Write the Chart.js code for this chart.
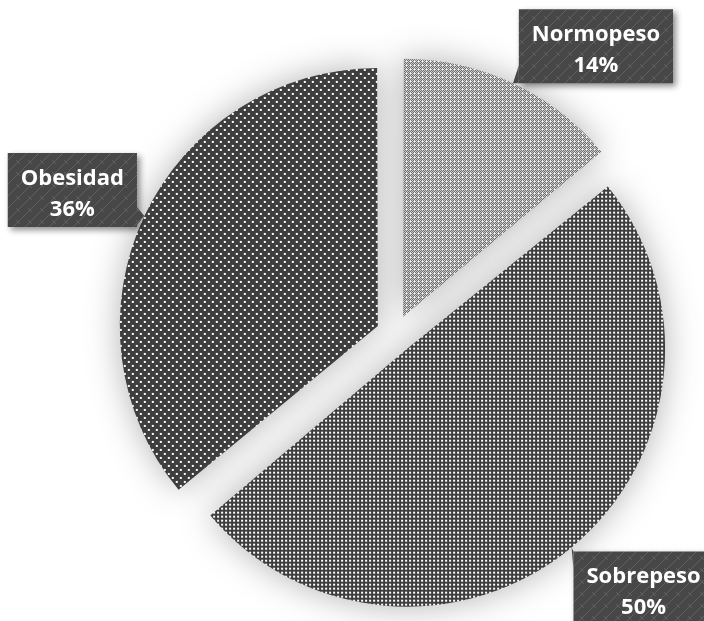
<!DOCTYPE html>
<html>
<head>
<meta charset="utf-8">
<script src="https://cdn.jsdelivr.net/npm/chart.js@4.4.1/dist/chart.umd.min.js"></script>
<style>
  html, body { margin: 0; padding: 0; background: #fff; }
  #pieChart { display: block; }
</style>
</head>
<body>
<canvas id="pieChart" width="704" height="621"></canvas>
<script>
const categories = ["Normopeso", "Sobrepeso", "Obesidad"];
const percentages = [14, 50, 36];

const pieChart = document.getElementById("pieChart");
const ctx0 = pieChart.getContext("2d");

// small repeating tiles used as slice fills
function makePattern(size, paint) {
  const c = document.createElement("canvas");
  c.width = size;
  c.height = size;
  const g = c.getContext("2d");
  paint(g, size);
  return ctx0.createPattern(c, "repeat");
}

const normoFill = makePattern(8, (g, s) => {
  g.fillStyle = "#fff";
  g.fillRect(0, 0, s, s);
  g.fillStyle = "#3c3c3c";
  const holes = ["2,2", "6,6", "2,6", "6,2"];
  for (let y = 0; y < s; y++) {
    for (let x = 0; x < s; x++) {
      if ((x + y) % 2 === 0 && !holes.includes(x + "," + y)) g.fillRect(x, y, 1, 1);
    }
  }
});

const sobreFill = makePattern(4, (g, s) => {
  g.fillStyle = "#3e3e3e";
  g.fillRect(0, 0, s, s);
  g.fillStyle = "#fff";
  g.fillRect(1, 1, 2, 2);
});

const obesFill = makePattern(8, (g, s) => {
  g.fillStyle = "#3e3e3e";
  g.fillRect(0, 0, s, s);
  g.fillStyle = "#fff";
  g.fillRect(1, 1, 2, 2);
  g.fillRect(5, 5, 2, 2);
});

const boxFill = makePattern(12, (g, s) => {
  g.fillStyle = "#474747";
  g.fillRect(0, 0, s, s);
  g.strokeStyle = "#5f5f5f";
  g.lineWidth = 1;
  g.beginPath();
  g.moveTo(-1, s + 1);
  g.lineTo(s + 1, -1);
  g.moveTo(4, 4);
  g.lineTo(8, 8);
  g.stroke();
});

// Chart.js grows a half-circle slice when it is offset; undo that and add the soft shadow
const explodeFix = {
  id: "explodeFix",
  beforeDatasetsDraw(chart) {
    const meta = chart.getDatasetMeta(0);
    const base = meta.controller.outerRadius;
    meta.data.forEach((arc) => {
      const off = (arc.options.offset || 0) / 4;
      const fix = 1 - Math.sin(Math.min(Math.PI, arc.circumference));
      arc.outerRadius = base - off * fix;
    });
    const ctx = chart.ctx;
    ctx.save();
    ctx.shadowColor = "rgba(0, 0, 0, 0.3)";
    ctx.shadowBlur = 34;
  },
  afterDatasetsDraw(chart) {
    chart.ctx.restore();
  },
};

const calloutLabels = {
  id: "calloutLabels",
  afterDatasetsDraw(chart, args, opts) {
    const ctx = chart.ctx;
    const meta = chart.getDatasetMeta(0);
    const R = meta.controller.outerRadius;
    ctx.save();
    ctx.font = "bold 22px 'Open Sans'";
    meta.data.forEach((arc, i) => {
      const mid = (arc.startAngle + arc.endAngle) / 2;
      const shift = (arc.options.offset || 0) / 4;
      const ax = arc.x + Math.cos(mid) * (shift + R);
      const ay = arc.y + Math.sin(mid) * (shift + R);
      const line1 = categories[i];
      const line2 = percentages[i] + "%";
      const w = Math.max(ctx.measureText(line1).width, ctx.measureText(line2).width) + 26;
      const h = 74;
      const cx = ax + opts.shift[i][0];
      const cy = ay + opts.shift[i][1];
      const left = cx - w / 2, right = cx + w / 2, top = cy - h / 2, bottom = cy + h / 2;

      // wedge from the nearest box edge to the slice
      let b1, b2;
      if (ax < left || ax > right) {
        const ex = ax < left ? left : right;
        const y1 = Math.min(Math.max(ay - 9, top), bottom - 18);
        b1 = [ex, y1];
        b2 = [ex, y1 + 18];
      } else {
        const ey = ay < top ? top : bottom;
        const x1 = Math.min(Math.max(ax - 9, left), right - 18);
        b1 = [x1, ey];
        b2 = [x1 + 18, ey];
      }

      ctx.save();
      ctx.shadowColor = "rgba(0, 0, 0, 0.45)";
      ctx.shadowBlur = 6;
      ctx.shadowOffsetX = 3;
      ctx.shadowOffsetY = 3;
      ctx.fillStyle = boxFill;
      ctx.beginPath();
      ctx.rect(left, top, w, h);
      ctx.fill();
      ctx.shadowColor = "rgba(0, 0, 0, 0)";
      ctx.beginPath();
      ctx.moveTo(b1[0], b1[1]);
      ctx.lineTo(ax, ay);
      ctx.lineTo(b2[0], b2[1]);
      ctx.closePath();
      ctx.fill();
      ctx.restore();

      ctx.fillStyle = "#fff";
      ctx.textAlign = "center";
      ctx.textBaseline = "alphabetic";
      ctx.fillText(line1, cx, cy - 5);
      ctx.fillText(line2, cx, cy + 26);
    });
    ctx.restore();
  },
};

new Chart(pieChart, {
  type: "pie",
  data: {
    labels: categories,
    datasets: [
      {
        data: percentages,
        backgroundColor: [normoFill, sobreFill, obesFill],
        borderWidth: 0,
        offset: 76,
      },
    ],
  },
  options: {
    responsive: false,
    animation: false,
    radius: 258,
    layout: {
      padding: { left: 86, top: 47, right: 0, bottom: 0 },
    },
    plugins: {
      legend: { display: false },
      tooltip: { enabled: false },
      calloutLabels: {
        shift: [[83, -37], [72, 41], [-72, -26]],
      },
    },
  },
  plugins: [explodeFix, calloutLabels],
});
</script>
</body>
</html>
